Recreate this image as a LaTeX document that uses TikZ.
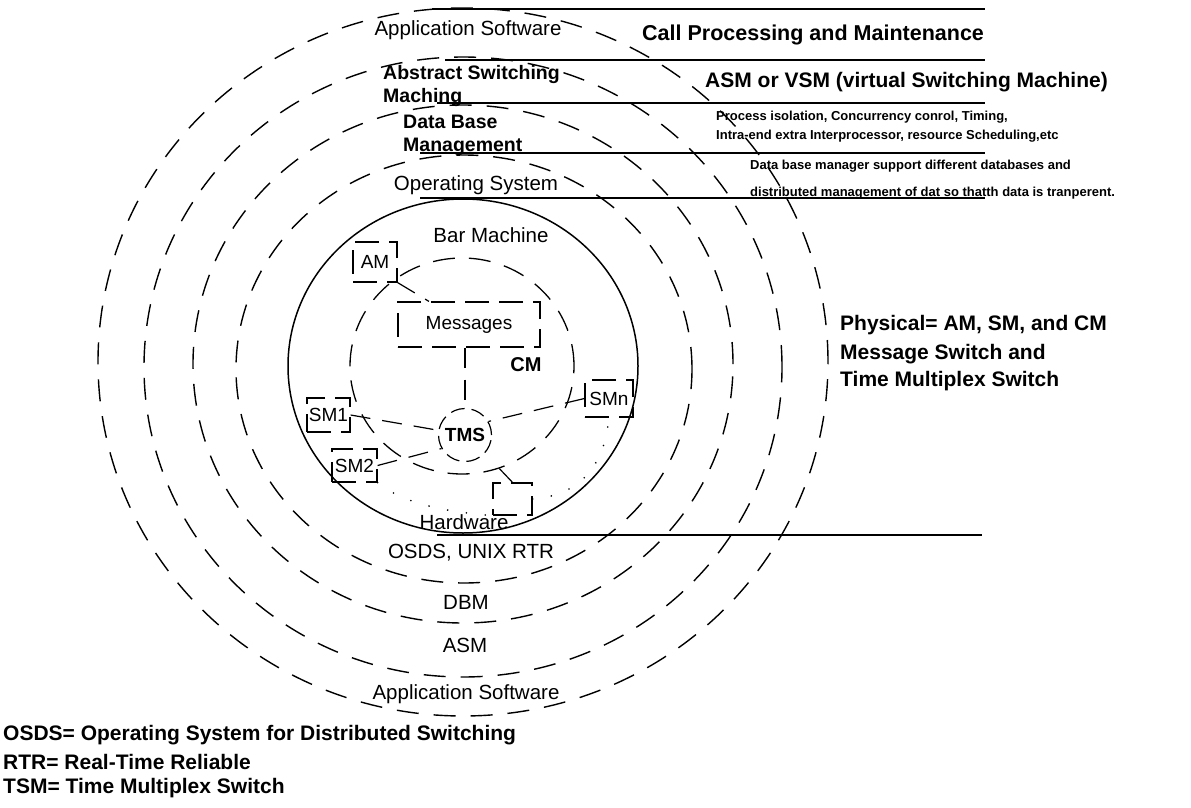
\documentclass[tikz,border=0pt]{standalone}
\usepackage{fontspec}
\setmainfont{Liberation Sans}
\usetikzlibrary{shapes.geometric}
\begin{document}
\begin{tikzpicture}[x=1pt,y=-1pt,
  ring/.style={line width=1.4pt, dash pattern=on 22pt off 15pt},
  rule/.style={line width=1.3pt},
  lab/.style={inner sep=0pt, font=\fontsize{20.5}{24}\selectfont},
  blab/.style={inner sep=0pt, font=\fontsize{19.5}{23}\selectfont\bfseries},
  note/.style={inner sep=0pt, anchor=west, font=\fontsize{21}{25}\selectfont\bfseries},
  small/.style={inner sep=0pt, anchor=west, font=\fontsize{13}{15}\selectfont\bfseries},
  unit/.style={draw, line width=1.2pt, dash pattern=on 24pt off 10pt, inner sep=0pt,
    font=\fontsize{19}{22}\selectfont},
  link/.style={line width=1.2pt, dash pattern=on 20pt off 12pt},
  dots/.style={line width=1.8pt, line cap=round, dash pattern=on 0pt off 19pt},
]
\useasboundingbox (0,0) rectangle (1191,808);

% horizontal rules tying the layers to their descriptions
\coordinate (r1a) at (432,9);   \coordinate (r1b) at (985,9);
\coordinate (r2a) at (445,60);  \coordinate (r2b) at (985,60);
\coordinate (r3a) at (437,103); \coordinate (r3b) at (985,103);
\coordinate (r4a) at (420,153); \coordinate (r4b) at (985,153);
\coordinate (r5a) at (420,198); \coordinate (r5b) at (985,198);
\coordinate (r6a) at (437,535); \coordinate (r6b) at (982,535);
\foreach \i in {1,...,6} \draw[rule] (r\i a) -- (r\i b);

% concentric software layers
\draw[ring] (463,362) ellipse [x radius=365pt, y radius=354pt];
\draw[ring] (463,367) ellipse [x radius=319pt, y radius=310pt];
\draw[ring] (463,364) ellipse [x radius=270pt, y radius=259pt];
\draw[ring] (464,369) ellipse [x radius=228pt, y radius=214pt];
\draw[line width=1.5pt] (463,366) ellipse [x radius=175pt, y radius=167pt];

% physical switch
\node[ellipse, draw, line width=1.3pt, dash pattern=on 22pt off 14pt, inner sep=0pt,
  minimum width=224pt, minimum height=216pt] (cm) at (462,366) {};
\node[unit, minimum width=142pt, minimum height=45pt] (msg) at (469,324.5) {Messages};
\node[circle, draw, line width=1.2pt, dash pattern=on 14pt off 7pt, inner sep=0pt,
  minimum size=53pt, font=\fontsize{19}{22}\selectfont\bfseries] (tms) at (465,435) {TMS};
\node[unit, minimum width=44pt, minimum height=40pt] (am) at (375,262) {AM};
\node[unit, minimum width=43pt, minimum height=34pt] (sm1) at (328.5,415) {SM1};
\node[unit, minimum width=45pt, minimum height=33pt] (sm2) at (354.5,465.5) {SM2};
\node[unit, minimum width=48pt, minimum height=37pt] (smn) at (609,398.5) {SMn};
\node[unit, minimum width=39pt, minimum height=32pt] (hwbox) at (512.5,499) {};

\draw[link] (am.south east) -- (msg.150);
\draw[link] (tms.north |- msg.south) -- (tms.north);
\draw[link] (sm1.east) -- (tms.170);
\draw[link] (sm2.east) -- (tms.210);
\draw[link] (smn.west) -- (tms.30);
\draw[link] (cm.-70) -- (hwbox.north);
\draw[dots] (sm2.south east) .. controls (405,505) and (450,512) .. (hwbox.south west);
\draw[dots] (hwbox.east) .. controls (585,495) and (605,460) .. (smn.south);

% layer names
\node[lab] (app1) at (468,30) {Application Software};
\node[blab, anchor=west] (asm1) at (383,75) {Abstract Switching};
\node[blab, anchor=west] (asm2) at (383,98) {Maching};
\node[blab, anchor=west] (dbm1) at (403,122) {Data Base};
\node[blab, anchor=west] (dbm2) at (403,147) {Management};
\node[lab] (os1) at (476,185) {Operating System};
\node[lab] (bar) at (491,235) {Bar Machine};
\node[blab, font=\fontsize{20}{24}\selectfont\bfseries] (cmlab) at (526,365) {CM};
\node[lab] (hw) at (464,522) {Hardware};
\node[lab] (os2) at (471,553) {OSDS, UNIX RTR};
\node[lab] (dbm3) at (466,602) {DBM};
\node[lab] (asm3) at (465,645) {ASM};
\node[lab] (app2) at (466,694) {Application Software};

% descriptions on the right
\node[note, font=\fontsize{21.5}{25}\selectfont\bfseries] (d1) at (642,35) {Call Processing and Maintenance};
\node[note] (d2) at (705,82) {ASM or VSM (virtual Switching Machine)};
\node[small] (d3) at (716,117) {Process isolation, Concurrency conrol, Timing,};
\node[small] (d4) at (716,136) {Intra-end extra Interprocessor, resource Scheduling,etc};
\node[small] (d5) at (750,166) {Data base manager support different databases and};
\node[small] (d6) at (750,193) {distributed management of dat so thatth data is tranperent.};

\node[note] (p1) at (840,325) {Physical= AM, SM, and CM};
\node[note] (p2) at (840,354) {Message Switch and};
\node[note] (p3) at (840,381) {Time Multiplex Switch};

% abbreviations
\node[note] (k1) at (3,735) {OSDS= Operating System for Distributed Switching};
\node[note] (k2) at (3,762) {RTR= Real-Time Reliable};
\node[note] (k3) at (3,788) {TSM= Time Multiplex Switch};
\end{tikzpicture}
\end{document}
